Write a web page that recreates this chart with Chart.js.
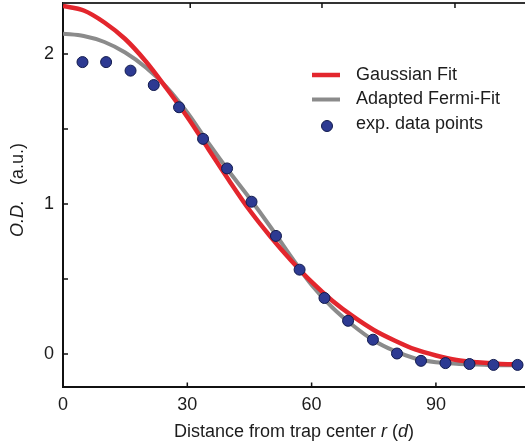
<!DOCTYPE html>
<html>
<head>
<meta charset="utf-8">
<script src="https://cdn.jsdelivr.net/npm/chart.js@4.4.0/dist/chart.umd.min.js"></script>
<style>
  html, body { margin: 0; padding: 0; background: #fff; }
  canvas { display: block; }
</style>
</head>
<body>
<canvas id="odChart" width="525" height="447"></canvas>
<script>
const fitR = [0, 5, 10, 15, 20, 25, 30, 35, 40, 45, 50, 55, 60, 65, 70, 75, 80, 85, 90, 95, 100, 105, 110];
const gaussianFit = [2.32, 2.29, 2.21, 2.10, 1.95, 1.77, 1.58, 1.37, 1.16, 0.96, 0.785, 0.625, 0.48, 0.355, 0.25, 0.16, 0.09, 0.03, -0.01, -0.04, -0.055, -0.065, -0.07];
const fermiFit = [2.135, 2.12, 2.08, 2.01, 1.91, 1.78, 1.61, 1.41, 1.22, 1.04, 0.85, 0.65, 0.46, 0.31, 0.19, 0.09, 0.02, -0.03, -0.055, -0.065, -0.07, -0.075, -0.075];

// experimental points
const dataR = [4.7, 10.4, 16.3, 21.9, 28.0, 33.8, 39.6, 45.5, 51.4, 57.1, 63.1, 68.8, 74.8, 80.6, 86.4, 92.3, 98.1, 103.9, 109.7];
const dataOD = [1.946, 1.946, 1.889, 1.793, 1.645, 1.434, 1.237, 1.015, 0.787, 0.562, 0.373, 0.221, 0.095, 0.003, -0.046, -0.061, -0.067, -0.073, -0.073];

// ticks
const xTicks = [0, 30, 60, 90];
const topTicks = [30.7, 62.5, 94.6];
const yTicks = [0, 1, 2];
const yMinorTicks = [0.5, 1.5];

const FONT = '"Liberation Sans", Arial, sans-serif';
const TEXT = '#1c1c1c';

function toPoints(xs, ys) {
  return xs.map((x, i) => ({ x: x, y: ys[i] }));
}

// drop the half-label padding chart.js adds at the scale ends
function noEndPadding(s) {
  s.paddingTop = 0; s.paddingBottom = 0;
  s.paddingLeft = 0; s.paddingRight = 0;
}

// ticks inside the frame, top frame line, axis titles and legend
const decorPlugin = {
  id: 'decor',
  afterDraw(chart) {
    const ctx = chart.ctx;
    const a = chart.chartArea;
    const xs = chart.scales.x, ys = chart.scales.y;
    ctx.save();

    // top frame
    ctx.strokeStyle = '#333';
    ctx.lineWidth = 2;
    ctx.beginPath();
    ctx.moveTo(a.left, a.top);
    ctx.lineTo(chart.width, a.top);
    ctx.stroke();

    // inward tick marks
    ctx.strokeStyle = '#111';
    ctx.lineWidth = 1.5;
    ctx.beginPath();
    xTicks.forEach(v => {
      if (v === 0) return;
      const px = xs.getPixelForValue(v);
      ctx.moveTo(px, a.bottom);
      ctx.lineTo(px, a.bottom - 5);
    });
    topTicks.forEach(v => {
      const px = xs.getPixelForValue(v);
      ctx.moveTo(px, a.top);
      ctx.lineTo(px, a.top + 5);
    });
    yTicks.concat(yMinorTicks).forEach(v => {
      const py = ys.getPixelForValue(v);
      ctx.moveTo(a.left, py);
      ctx.lineTo(a.left + 5, py);
    });
    ctx.stroke();

    // mixed-style text helper
    function drawParts(parts, cx, cy) {
      let total = 0;
      parts.forEach(p => {
        ctx.font = (p[1] ? 'italic ' : '') + '18px ' + FONT;
        p.w = ctx.measureText(p[0]).width;
        total += p.w;
      });
      let x = cx - total / 2;
      parts.forEach(p => {
        ctx.font = (p[1] ? 'italic ' : '') + '18px ' + FONT;
        ctx.fillText(p[0], x, cy);
        x += p.w;
      });
    }

    ctx.fillStyle = TEXT;
    ctx.textBaseline = 'middle';
    ctx.textAlign = 'left';

    // x title
    drawParts([['Distance from trap center ', false], ['r', true], [' (', false], ['d', true], [')', false]],
      (a.left + a.right) / 2, 432);

    // y title
    ctx.save();
    ctx.translate(18, 190);
    ctx.rotate(-Math.PI / 2);
    drawParts([['O.D.', true], ['   (a.u.)', false]], 0, 0);
    ctx.restore();

    // legend
    const ds = chart.data.datasets;
    const rows = [75, 99.5, 124];
    ds.forEach((d, i) => {
      const y = rows[i];
      if (d.showLine) {
        ctx.strokeStyle = d.borderColor;
        ctx.lineWidth = d.borderWidth;
        ctx.beginPath();
        ctx.moveTo(312, y);
        ctx.lineTo(340, y);
        ctx.stroke();
      } else {
        ctx.fillStyle = d.backgroundColor;
        ctx.strokeStyle = d.borderColor;
        ctx.lineWidth = d.borderWidth;
        ctx.beginPath();
        ctx.arc(327, y + 2, d.pointRadius, 0, Math.PI * 2);
        ctx.fill();
        ctx.stroke();
      }
      ctx.fillStyle = TEXT;
      ctx.font = '18px ' + FONT;
      ctx.fillText(d.label, 356, y);
    });

    ctx.restore();
  }
};

new Chart(document.getElementById('odChart'), {
  type: 'scatter',
  data: {
    datasets: [
      {
        label: 'Gaussian Fit',
        data: toPoints(fitR, gaussianFit),
        showLine: true,
        borderColor: '#e3262d',
        borderWidth: 4.5,
        pointRadius: 0,
        cubicInterpolationMode: 'monotone',
        order: 2
      },
      {
        label: 'Adapted Fermi-Fit',
        data: toPoints(fitR, fermiFit),
        showLine: true,
        borderColor: '#8b8b8b',
        borderWidth: 4,
        pointRadius: 0,
        cubicInterpolationMode: 'monotone',
        order: 3
      },
      {
        label: 'exp. data points',
        data: toPoints(dataR, dataOD),
        showLine: false,
        backgroundColor: '#2d3a92',
        borderColor: '#111a4d',
        borderWidth: 1,
        pointRadius: 5.5,
        order: 1
      }
    ]
  },
  options: {
    responsive: false,
    animation: false,
    layout: { autoPadding: false, padding: { left: 35, right: 0, top: 3, bottom: 24 } },
    plugins: {
      legend: { display: false },
      tooltip: { enabled: false }
    },
    scales: {
      x: {
        type: 'linear',
        min: 0,
        max: 111.5,
        afterBuildTicks: s => { s.ticks = xTicks.map(v => ({ value: v })); },
        afterFit: noEndPadding,
        ticks: { font: { family: FONT, size: 18 }, color: TEXT, padding: 7, maxRotation: 0 },
        grid: { drawOnChartArea: false, drawTicks: false },
        border: { display: true, color: '#111', width: 2 }
      },
      y: {
        type: 'linear',
        min: -0.223,
        max: 2.34,
        afterBuildTicks: s => { s.ticks = yTicks.map(v => ({ value: v })); },
        afterFit: noEndPadding,
        ticks: { font: { family: FONT, size: 18 }, color: TEXT, padding: 9 },
        grid: { drawOnChartArea: false, drawTicks: false },
        border: { display: true, color: '#111', width: 2 }
      }
    }
  },
  plugins: [decorPlugin]
});
</script>
</body>
</html>
